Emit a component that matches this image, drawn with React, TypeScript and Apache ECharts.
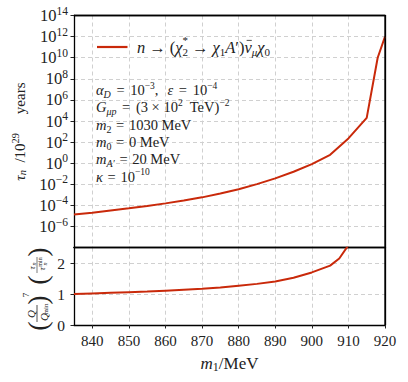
import React, { useEffect, useRef } from "react";
import * as echarts from "echarts";

// ---- data ----
const tauMass = [835, 840, 845, 850, 855, 860, 865, 870, 875, 880, 885, 890, 895, 900, 905, 910, 915, 918, 920];
// log10 of tau_n / 10^29 years
const tauLog10 = [-4.85, -4.69, -4.48, -4.27, -4.04, -3.8, -3.53, -3.23, -2.87, -2.47, -1.98, -1.43, -0.8, -0.08, 0.8, 2.35, 4.3, 10.0, 12.0];

const ratioMass = [835, 840, 845, 850, 855, 860, 865, 870, 875, 880, 885, 890, 895, 900, 905, 907.5, 910];
const ratioValues = [1.0, 1.02, 1.04, 1.06, 1.08, 1.11, 1.14, 1.17, 1.21, 1.27, 1.33, 1.41, 1.53, 1.7, 1.92, 2.15, 2.58];

const xTicks = [840, 850, 860, 870, 880, 890, 900, 910, 920];
const tauTickExps = [-6, -4, -2, 0, 2, 4, 6, 8, 10, 12, 14];
const ratioTicks = [0, 1, 2];
// inner grid lines (the frame edges are drawn by axis lines)
const xGridLines = xTicks.filter((v) => v < 920);
const tauGridLines = tauTickExps.filter((v) => v < 14);
const ratioGridLines = ratioTicks.filter((v) => v > 0);

const FONT = "Liberation Serif, DejaVu Serif, serif";
const INK = "#222";
const FRAME = "#000";
const RED = "#c9290a";

const fnt = (size: number, italic = false) => `${italic ? "italic " : ""}${size}px ${FONT}`;

// rich styles for ECharts model texts (axis labels / names)
const mk = (size: number, italic: boolean, pad?: number[]) => ({
  fontSize: size,
  fontFamily: FONT,
  fontStyle: italic ? "italic" : "normal",
  color: INK,
  ...(pad ? { padding: pad } : {}),
});
const richAxis = {
  b: mk(15, false),
  i: mk(15, true),
  s: mk(10.5, false, [0, 0, 9, 0]),
  di: mk(10.5, true, [6, 0, 0, 0]),
  tb: mk(16.5, false),
  ts: mk(11.5, false, [0, 0, 10, 0]),
  xb: mk(17, false),
  xi: mk(17, true),
  xd: mk(12, false, [7, 0, 0, 0]),
};

const legendText = "{I|n}{g|4}{B|→}{g|4}{B|(}{I|χ}{D|2}{U|*}{g|4}{B|→}{g|4}{I|χ}{D|1}{I|A}{B|′)}{N|ν}{DI|μ}{I|χ}{D|0}";
const annotations = [
  "{i|α}{di|D}{g|2}{b| = }{g|2}{b|10}{s|−3}{b|,}{g|9}{i|ε}{g|2}{b| = }{g|2}{b|10}{s|−4}",
  "{i|G}{di|μp}{g|2}{b| = }{g|2}{b|(3 × 10}{s|2}{b|  TeV)}{s|−2}",
  "{i|m}{d|2}{g|1}{b| = }{g|1}{b|1030 MeV}",
  "{i|m}{d|0}{g|1}{b| = }{g|1}{b|0 MeV}",
  "{i|m}{di|A′}{g|1}{b| = }{g|1}{b|20 MeV}",
  "{i|κ}{g|1}{b| = }{g|1}{b|10}{s|−10}",
];
const annotationY = [90, 107, 125, 142, 159, 176.5];

type TokStyle = { f: number; it?: boolean; dy?: number; stack?: boolean; bar?: boolean };
const annStyles: Record<string, TokStyle> = {
  b: { f: 14.5 },
  i: { f: 14.5, it: true },
  s: { f: 9.5, dy: -4.5 },
  d: { f: 10, dy: 4 },
  di: { f: 10, it: true, dy: 4 },
};
const legStyles: Record<string, TokStyle> = {
  B: { f: 16.5 },
  I: { f: 16.5, it: true },
  N: { f: 16.5, it: true, bar: true },
  D: { f: 11, dy: 5 },
  DI: { f: 11, it: true, dy: 5 },
  U: { f: 11, dy: -7, stack: true },
};

export default function App() {
  const ref = useRef<HTMLDivElement>(null);
  useEffect(() => {
    if (!ref.current) return;
    const chart = echarts.init(ref.current, null, { renderer: "svg" });
    const ctx = document.createElement("canvas").getContext("2d")!;
    const measure = (font: string, s: string) => {
      ctx.font = font;
      return ctx.measureText(s).width;
    };
    // lay out a little markup string "{style|text}..." as separate text elements
    const layout = (markup: string, styles: Record<string, TokStyle>, x0: number, y: number) => {
      let x = x0;
      let prevX = x0;
      const els: any[] = [];
      const re = /\{(\w+)\|([^}]*)\}/g;
      let m: RegExpExecArray | null;
      while ((m = re.exec(markup))) {
        const key = m[1];
        const s = m[2];
        if (key === "g") {
          x += Number(s);
          continue;
        }
        const tk = styles[key];
        const font = fnt(tk.f, !!tk.it);
        const w = measure(font, s);
        let px = x;
        if (tk.stack) {
          px = prevX;
          x = Math.max(x, prevX + w);
        } else {
          prevX = x;
          x += w;
        }
        els.push({
          type: "text",
          x: px,
          y: y + (tk.dy || 0),
          z: 20,
          style: { text: s, font, fill: INK, align: "left", verticalAlign: "middle" },
        });
        if (tk.bar) {
          const yy = y - tk.f * 0.4;
          els.push({
            type: "line",
            z: 20,
            shape: { x1: px + w * 0.3, y1: yy, x2: px + w * 1.0, y2: yy },
            style: { stroke: INK, lineWidth: 0.8 },
          });
        }
      }
      return els;
    };

    const dashed = { show: true, lineStyle: { color: "#d0d0d0", type: [4, 3], width: 1 } };
    const tick = { show: true, inside: false, length: 3.5, lineStyle: { color: INK, width: 1 } };
    const frameLine = { show: true, onZero: false, lineStyle: { color: FRAME, width: 1.3 } };
    // helper axes: dashed inner grid lines + a frame edge
    const gridOnly = (gridIndex: number, min: number, max: number, values: number[], position: string, grid: boolean) => ({
      type: "value",
      gridIndex,
      min,
      max,
      position,
      axisLine: frameLine,
      axisTick: { show: false, customValues: values },
      axisLabel: { show: false, customValues: values },
      splitLine: grid ? dashed : { show: false },
    });

    // explicit top and right frame edges, on top of everything
    const edge = (x1: number, y1: number, x2: number, y2: number) => ({
      type: "line",
      z: 100,
      silent: true,
      shape: { x1, y1, x2, y2 },
      style: { stroke: FRAME, lineWidth: 1.3 },
    });

    const t = (text: string, x: number, y: number, size: number, italic = false) => ({
      type: "text",
      x,
      y,
      style: { text, font: fnt(size, italic), fill: INK, align: "center", verticalAlign: "middle" },
    });

    const option: any = {
      animation: false,
      backgroundColor: "#fff",
      grid: [
        { left: 74, right: 23, top: 15.5, height: 232.2, show: false },
        { left: 74, right: 23, top: 247.7, height: 77.3, show: false },
      ],
      xAxis: [
        gridOnly(0, 835, 920, xGridLines, "bottom", true),
        {
          type: "value",
          gridIndex: 1,
          min: 835,
          max: 920,
          position: "bottom",
          axisLine: frameLine,
          axisTick: { ...tick, customValues: xTicks },
          axisLabel: { customValues: xTicks, margin: 8, fontFamily: FONT, fontSize: 15, color: INK },
          splitLine: { show: false },
          name: "{xi|m}{xd|1}{xb|/MeV}",
          nameLocation: "middle",
          nameGap: 29,
          nameTextStyle: { fontFamily: FONT, fontSize: 17, color: INK, rich: richAxis },
        },
        gridOnly(1, 835, 920, xGridLines, "top", true),
        gridOnly(0, 835, 920, xGridLines, "top", false),
      ],
      yAxis: [
        {
          type: "value",
          gridIndex: 0,
          min: -8,
          max: 14,
          position: "left",
          axisLine: frameLine,
          axisTick: { ...tick, customValues: tauTickExps },
          axisLabel: {
            customValues: tauTickExps,
            margin: 6,
            rich: richAxis,
            formatter: (v: number) => `{tb|10}{ts|${v < 0 ? "−" + -v : v}}`,
          },
          splitLine: { show: false },
          name: "{i|τ}{di|n}{b|  /10}{s|29}{b|     years}",
          nameLocation: "middle",
          nameGap: 42,
          nameTextStyle: { fontFamily: FONT, fontSize: 15, color: INK, rich: richAxis },
        },
        {
          type: "value",
          gridIndex: 1,
          min: 0,
          max: 2.5,
          position: "left",
          axisLine: frameLine,
          axisTick: { ...tick, customValues: ratioTicks },
          axisLabel: { customValues: ratioTicks, margin: 9, fontFamily: FONT, fontSize: 15.5, color: INK },
          splitLine: { show: false },
        },
        gridOnly(0, -8, 14, tauGridLines, "right", true),
        gridOnly(1, 0, 2.5, ratioGridLines, "right", true),
      ],
      series: [
        {
          name: "tau",
          type: "line",
          xAxisIndex: 0,
          yAxisIndex: 0,
          data: tauMass.map((m, k) => [m, tauLog10[k]]),
          showSymbol: false,
          lineStyle: { color: RED, width: 2 },
          itemStyle: { color: RED },
          clip: true,
        },
        {
          name: "ratio",
          type: "line",
          xAxisIndex: 1,
          yAxisIndex: 1,
          data: ratioMass.map((m, k) => [m, ratioValues[k]]),
          showSymbol: false,
          lineStyle: { color: RED, width: 2 },
          itemStyle: { color: RED },
          clip: true,
        },
      ],
      graphic: [
        edge(74, 15.5, 385, 15.5),
        edge(385, 15.5, 385, 325),
        // legend
        {
          type: "line",
          z: 20,
          shape: { x1: 97, y1: 47, x2: 127.5, y2: 47 },
          style: { stroke: RED, lineWidth: 2.2 },
        },
        ...layout(legendText, legStyles, 137, 47),
        ...annotations.flatMap((text, k) => layout(text, annStyles, 96, annotationY[k])),
        {
          type: "group",
          x: 37,
          y: 290,
          rotation: Math.PI / 2,
          children: [
            t("(", -36, 0, 28),
            t("Q", -24, -6, 11, true),
            { type: "line", shape: { x1: -32, y1: 0, x2: -15, y2: 0 }, style: { stroke: INK, lineWidth: 0.8 } },
            t("Q", -27, 7, 11, true),
            t("min", -19, 9, 7),
            t(")", -10, 0, 28),
            t("7", -5, -11, 9),
            t("(", 10, 0, 28),
            t("τ", 22, -5, 9, true),
            t("n", 26, -3, 6, true),
            { type: "line", shape: { x1: 17, y1: 0, x2: 33, y2: 0 }, style: { stroke: INK, lineWidth: 0.6 } },
            t("τ", 21, 5, 9, true),
            t("min", 28, 3, 6),
            t("n", 26, 8, 6, true),
            t(")", 38, 0, 28),
          ],
        },
      ],
    };
    chart.setOption(option);
    return () => chart.dispose();
  }, []);
  return <div ref={ref} style={{ position: "fixed", left: 0, top: 0, width: 408, height: 382 }} />;
}
